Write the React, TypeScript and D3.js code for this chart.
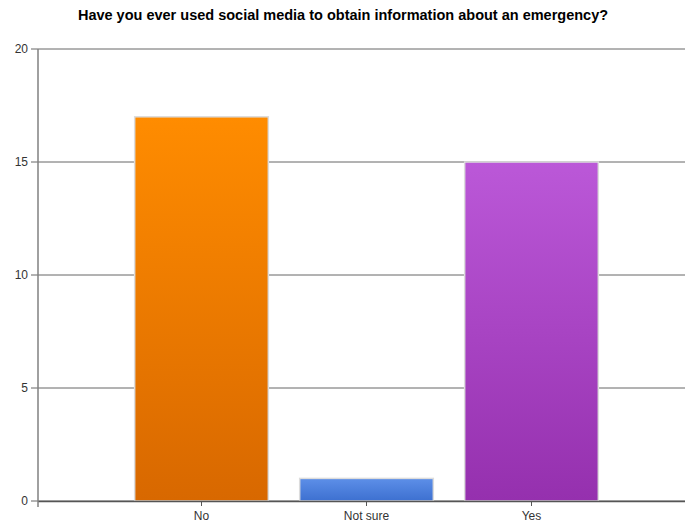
import React from "react";
import * as d3 from "d3";

const title = "Have you ever used social media to obtain information about an emergency?";
const categories = ["No", "Not sure", "Yes"];
const values = [17, 1, 15];
const yTicks = [0, 5, 10, 15, 20];
const topColors = ["#ff8c00", "#5d8fe8", "#bb58d8"];
const bottomColors = ["#d86800", "#3d70d0", "#9530ae"];

export default function App() {
  const W = 686, H = 523;
  const left = 38, right = 685, top = 49, bottom = 501;
  const y = d3.scaleLinear().domain([0, 20]).range([bottom, top]);
  const x = d3.scalePoint<string>().domain(categories).range([201.5, 531.5]);
  const step = x.step();
  const bw = step * 0.81;
  const font = "Arial, 'Liberation Sans', sans-serif";
  return (
    <svg width={W} height={H} style={{ position: "absolute", left: 0, top: 0, background: "#fff" }}>
      <defs>
        {categories.map((c, i) => (
          <linearGradient key={c} id={`g${i}`} x1="0" y1="0" x2="0" y2="1">
            <stop offset="0" stopColor={topColors[i]} />
            <stop offset="1" stopColor={bottomColors[i]} />
          </linearGradient>
        ))}
      </defs>
      <text x={343} y={20} textAnchor="middle" fontFamily={font} fontWeight="bold" fontSize={14.5} fill="#000">
        {title}
      </text>
      {yTicks.map((t) => (
        <g key={t}>
          <line x1={left} x2={right} y1={y(t)} y2={y(t)} stroke="#666" strokeWidth={1} />
          <line x1={31} x2={left} y1={y(t)} y2={y(t)} stroke="#666" strokeWidth={1} />
          <text x={28} y={y(t) + 4} textAnchor="end" fontFamily={font} fontSize={12} fill="#333">
            {t}
          </text>
        </g>
      ))}
      {categories.map((c, i) => {
        const cx = x(c)!;
        return (
          <g key={c}>
            <rect
              x={cx - bw / 2}
              y={y(values[i])}
              width={bw}
              height={y(0) - y(values[i])}
              fill={`url(#g${i})`}
              stroke="#dcdcdc"
              strokeWidth={1.5}
            />
            <line x1={cx} x2={cx} y1={bottom} y2={bottom + 5} stroke="#555" strokeWidth={1} />
            <text x={cx} y={520} textAnchor="middle" fontFamily={font} fontSize={12} fill="#333">
              {c}
            </text>
          </g>
        );
      })}
      <line x1={left} x2={right} y1={bottom + 0.5} y2={bottom + 0.5} stroke="#555" strokeWidth={1.5} />
      <line x1={left} x2={left} y1={top} y2={507} stroke="#808080" strokeWidth={1.5} />
    </svg>
  );
}
